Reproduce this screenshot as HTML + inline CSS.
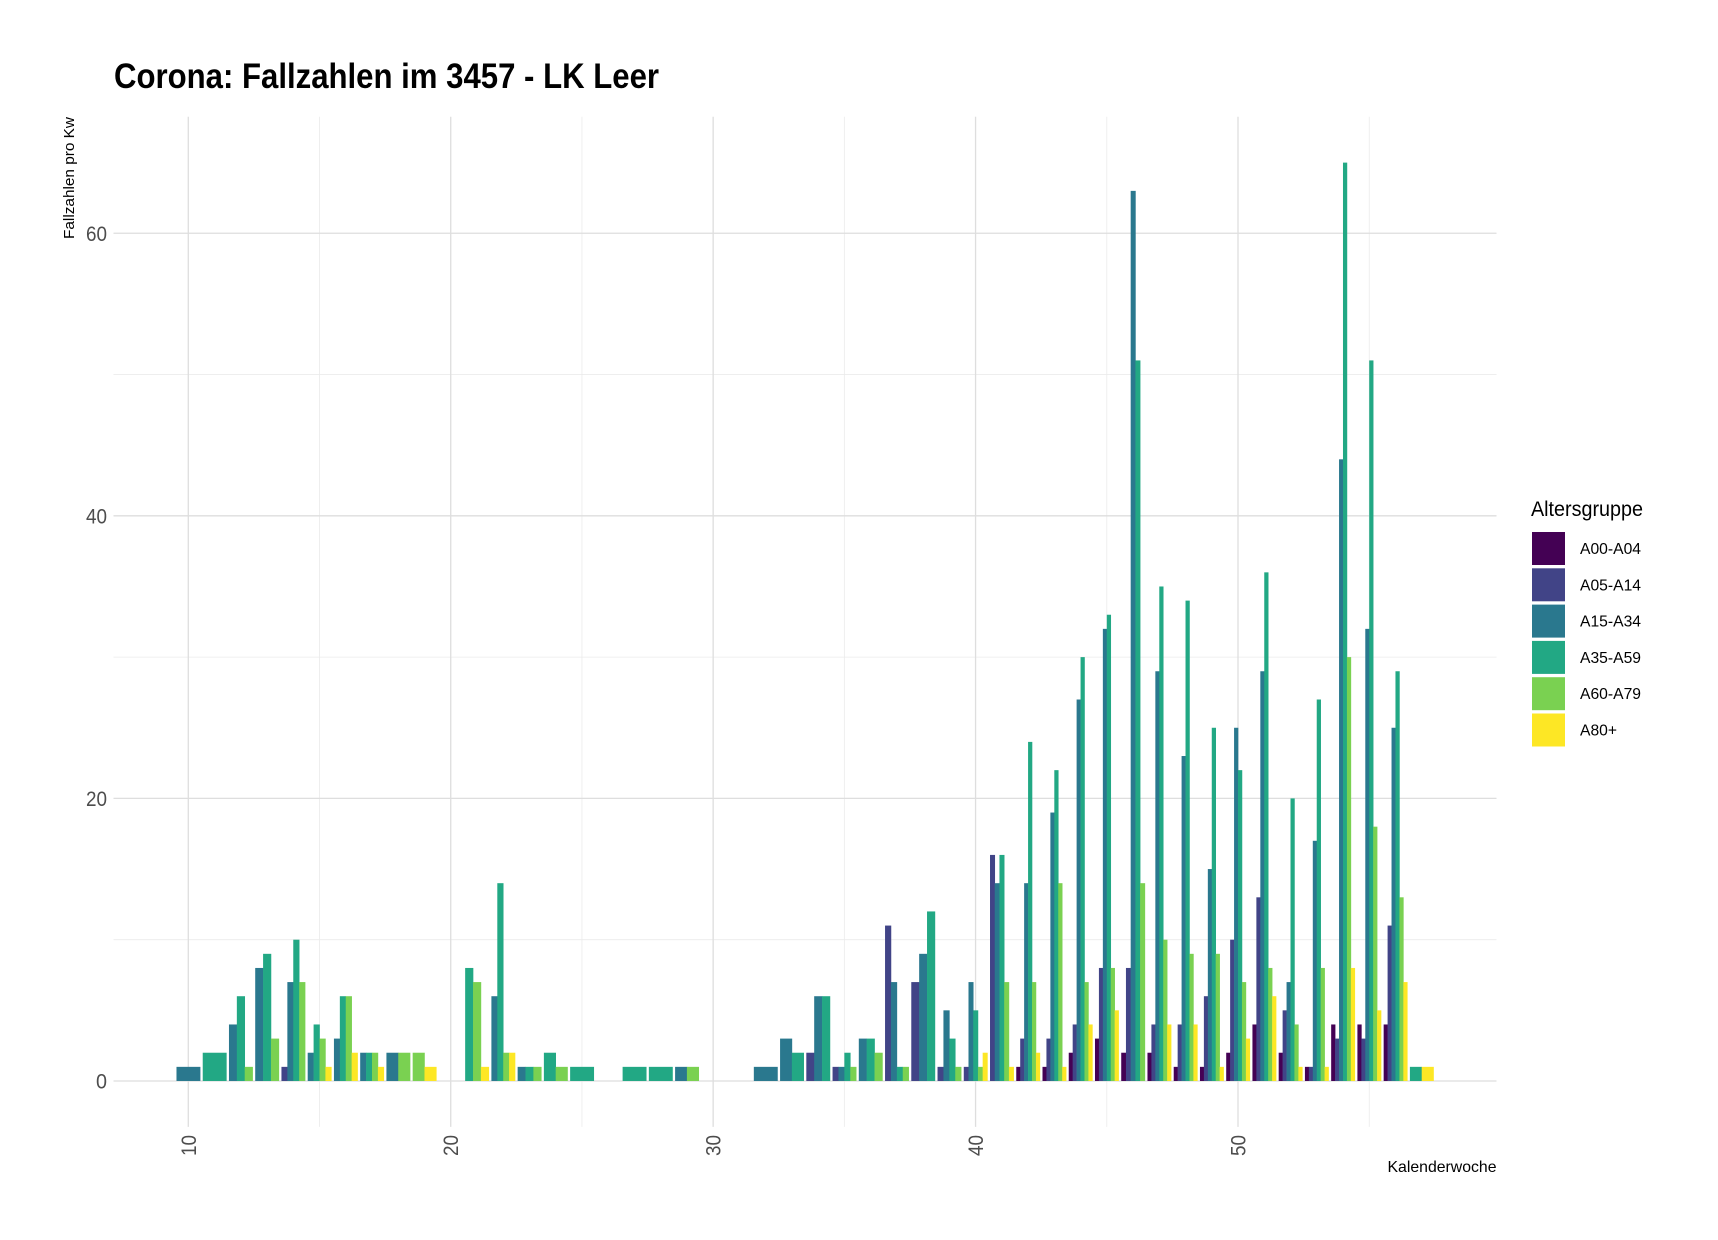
<!DOCTYPE html>
<html><head><meta charset="utf-8"><style>html,body{margin:0;padding:0;background:#fff}svg{display:block}</style></head>
<body>
<svg id="s" width="1718" height="1240" xmlns="http://www.w3.org/2000/svg" font-family="Liberation Sans, sans-serif">
<rect width="1718" height="1240" fill="#fff"/>
<g id="grid"></g>
<g id="bars"></g>
<text x="114" y="88" font-size="35" font-weight="bold" textLength="545" lengthAdjust="spacingAndGlyphs" fill="#000">Corona: Fallzahlen im 3457 - LK Leer</text>
<text transform="translate(74,239) rotate(-90)" font-size="15" textLength="122" lengthAdjust="spacingAndGlyphs" fill="#000">Fallzahlen pro Kw</text>
<text x="1496.5" y="1172" text-anchor="end" font-size="16" textLength="109" lengthAdjust="spacingAndGlyphs" fill="#000">Kalenderwoche</text>
<g id="yl" font-size="21" fill="#4d4d4d" text-anchor="end"></g>
<g id="xl" font-size="21" fill="#4d4d4d"></g>
<text x="1531" y="516" font-size="21" textLength="112" lengthAdjust="spacingAndGlyphs" fill="#000">Altersgruppe</text>
<g id="leg"></g>
</svg>
<script>
var NS="http://www.w3.org/2000/svg";
function el(p,t,a,txt){var e=document.createElementNS(NS,t);for(var k in a)e.setAttribute(k,a[k]);if(txt!=null)e.textContent=txt;document.getElementById(p).appendChild(e);return e;}
var L=113.5,R=1496.5,T=116.7,B=1126.9;
var x0=7.15,x1=59.85,y0=-3.25,y1=68.25;
function X(v){return L+(v-x0)/(x1-x0)*(R-L);}
function Y(v){return B-(v-y0)/(y1-y0)*(B-T);}
[10,30,50].forEach(function(v){el("grid","line",{x1:L,x2:R,y1:Y(v),y2:Y(v),stroke:"#ebebeb","stroke-width":0.8});});
[15,25,35,45,55].forEach(function(v){el("grid","line",{x1:X(v),x2:X(v),y1:T,y2:B,stroke:"#ebebeb","stroke-width":0.8});});
[0,20,40,60].forEach(function(v){el("grid","line",{x1:L,x2:R,y1:Y(v),y2:Y(v),stroke:"#dedede","stroke-width":1.3});
 el("yl","text",{x:107,y:Y(v)+7.5,textLength:v==0?11:21,lengthAdjust:"spacingAndGlyphs"},String(v));});
[10,20,30,40,50].forEach(function(v){el("grid","line",{x1:X(v),x2:X(v),y1:T,y2:B,stroke:"#dedede","stroke-width":1.3});
 el("xl","text",{transform:"translate("+(X(v)+7.5)+",1156) rotate(-90)",textLength:21,lengthAdjust:"spacingAndGlyphs"},String(v));});
var C=["#440154","#414487","#2A788E","#22A884","#7AD151","#FDE725"];
var D={
10:[0,0,1,0,0,0],11:[0,0,0,2,0,0],12:[0,0,4,6,1,0],13:[0,0,8,9,3,0],14:[0,1,7,10,7,0],
15:[0,0,2,4,3,1],16:[0,0,3,6,6,2],17:[0,0,2,2,2,1],18:[0,0,2,0,2,0],19:[0,0,0,0,2,1],
21:[0,0,0,8,7,1],22:[0,0,6,14,2,2],23:[0,0,1,1,1,0],24:[0,0,0,2,1,0],25:[0,0,0,1,0,0],
27:[0,0,0,1,0,0],28:[0,0,0,1,0,0],29:[0,0,1,0,1,0],32:[0,0,1,0,0,0],33:[0,0,3,2,0,0],
34:[0,2,6,6,0,0],35:[0,1,1,2,1,0],36:[0,0,3,3,2,0],37:[0,11,7,1,1,0],38:[0,7,9,12,0,0],
39:[0,1,5,3,1,0],40:[0,1,7,5,1,2],41:[0,16,14,16,7,1],42:[1,3,14,24,7,2],43:[1,3,19,22,14,1],
44:[2,4,27,30,7,4],45:[3,8,32,33,8,5],46:[2,8,63,51,14,0],47:[2,4,29,35,10,4],48:[1,4,23,34,9,4],
49:[1,6,15,25,9,1],50:[2,10,25,22,7,3],51:[4,13,29,36,8,6],52:[2,5,7,20,4,1],53:[1,1,17,27,8,1],
54:[4,3,44,65,30,8],55:[4,3,32,51,18,5],56:[4,11,25,29,13,7],57:[0,0,0,1,0,1]};
var uw=X(1)-X(0),tw=0.9*uw;
for(var w in D){var a=D[w],idx=[];a.forEach(function(v,i){if(v>0)idx.push(i);});
 var bw=tw/idx.length,left=X(+w)-tw/2;
 idx.forEach(function(i,j){el("bars","rect",{x:left+j*bw,y:Y(a[i]),width:bw+0.3,height:Y(0)-Y(a[i]),fill:C[i]});});}
var labs=["A00-A04","A05-A14","A15-A34","A35-A59","A60-A79","A80+"];
labs.forEach(function(l,i){var y=532+i*36.3;
 el("leg","rect",{x:1532,y:y,width:33,height:33,fill:C[i]});
 el("leg","text",{x:1580,y:y+22,"font-size":16,fill:"#000",textLength:l.length==4?37:61,lengthAdjust:"spacingAndGlyphs"},l);});
</script>
</body></html>
